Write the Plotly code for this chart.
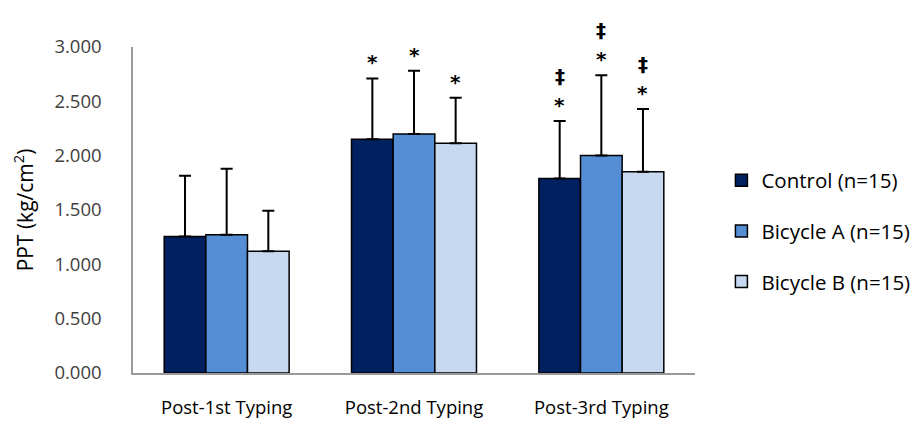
import plotly.graph_objects as go

categories = ["Post-1st Typing", "Post-2nd Typing", "Post-3rd Typing"]
series_names = ["Control (n=15)", "Bicycle A (n=15)", "Bicycle B (n=15)"]
control_mean = [1.255, 2.151, 1.791]
control_sd = [0.560, 0.560, 0.528]
bicycle_a_mean = [1.273, 2.200, 2.002]
bicycle_a_sd = [0.606, 0.582, 0.737]
bicycle_b_mean = [1.121, 2.115, 1.851]
bicycle_b_sd = [0.373, 0.419, 0.578]
# significance marks per series per category (bottom to top)
control_marks = [[], ["*"], ["*", "‡"]]
bicycle_a_marks = [[], ["*"], ["*", "‡"]]
bicycle_b_marks = [[], ["*"], ["*", "‡"]]
y_ticks = [0, 0.5, 1.0, 1.5, 2.0, 2.5, 3.0]
y_tick_labels = ["0.000", "0.500", "1.000", "1.500", "2.000", "2.500", "3.000"]

colors = ["#002060", "#558ED5", "#C6D9F1"]
means = [control_mean, bicycle_a_mean, bicycle_b_mean]
sds = [control_sd, bicycle_a_sd, bicycle_b_sd]
marks = [control_marks, bicycle_a_marks, bicycle_b_marks]

FONT = "Open Sans"
fig = go.Figure()
for i in range(3):
    fig.add_trace(go.Bar(
        x=categories, y=means[i], name=series_names[i],
        marker=dict(color=colors[i], line=dict(color="black", width=1.5)),
        error_y=dict(type="data", array=sds[i], arrayminus=[0] * 3, symmetric=False,
                     color="black", thickness=2, width=6),
        legendgroup=f"g{i}",
    ))

bar_px = 41.67
for i in range(3):
    for j, cat in enumerate(categories):
        top = means[i][j] + sds[i][j]
        for k, m in enumerate(marks[i][j]):
            fig.add_annotation(x=cat, y=top, xref="x", yref="y", text=f"<b>{m}</b>", showarrow=False,
                               xshift=(i - 1) * bar_px, yshift=2 + k * 29, yanchor="bottom",
                               font=dict(family="DejaVu Sans", size=20, color="black"))

# page body has an 8px default margin, so the figure is 912x413 drawn at (8, 8)
fig.update_layout(
    width=912, height=413,
    margin=dict(l=125, r=225, t=38.5, b=47.5, autoexpand=False),
    paper_bgcolor="white", plot_bgcolor="white",
    barmode="group", bargap=0.333, bargroupgap=0,
    font=dict(family=FONT, size=18.5, color="#404040"),
    legend=dict(x=1.047, y=0.652, xanchor="left", yanchor="top",
                font=dict(family=FONT, size=20.5, color="black"),
                tracegroupgap=21, itemwidth=30),
    showlegend=True,
)
fig.update_yaxes(range=[0, 3], tickvals=y_ticks, ticktext=y_tick_labels, showgrid=False,
                 showline=True, linecolor="#9a9a9a", linewidth=1.5, ticks="",
                 ticklabelstandoff=26, zeroline=False, automargin=False,
                 title=dict(text="PPT (kg/cm<sup>2</sup>)", standoff=18,
                            font=dict(family=FONT, size=21, color="black")))
fig.update_xaxes(showline=True, linecolor="#9a9a9a", linewidth=1.5, ticks="",
                 ticklabelstandoff=17, automargin=False, tickfont=dict(color="black"))

fig.write_html("out.html")
